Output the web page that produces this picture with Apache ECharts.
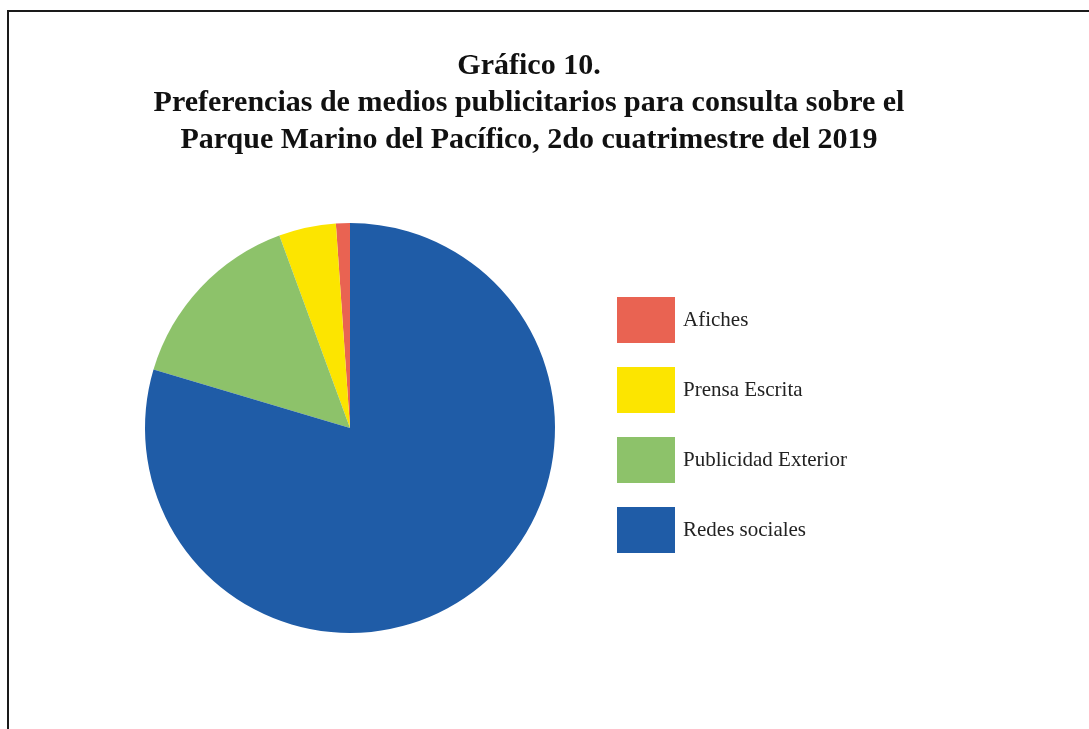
<!DOCTYPE html>
<html>
<head>
<meta charset="UTF-8">
<title>Gráfico 10</title>
<style>
  html, body { margin: 0; padding: 0; background: #fff; }
  #chart { width: 1089px; height: 729px; }
</style>
</head>
<body>
<div id="chart"></div>
<script src="https://cdn.jsdelivr.net/npm/echarts@6/dist/echarts.min.js"></script>
<script>
// categories and shares (%)
var categories = ['Afiches', 'Prensa Escrita', 'Publicidad Exterior', 'Redes sociales'];
var values = [1.1, 4.5, 14.8, 79.6];
var colors = ['#E96352', '#FCE500', '#8DC26A', '#1F5CA7'];

var titleText = 'Gráfico 10.\nPreferencias de medios publicitarios para consulta sobre el\nParque Marino del Pacífico, 2do cuatrimestre del 2019';

var pieData = [];
for (var i = 0; i < categories.length; i++) {
  pieData.push({ name: categories[i], value: values[i], itemStyle: { color: colors[i] } });
}

var chart = echarts.init(document.getElementById('chart'));
var option = {
  backgroundColor: '#fff',
  animation: false,
  title: {
    text: titleText,
    left: 524,
    top: 43,
    textAlign: 'center',
    textStyle: {
      fontFamily: 'Liberation Serif',
      fontWeight: 'bold',
      fontSize: 30,
      lineHeight: 37,
      color: '#111'
    }
  },
  legend: {
    orient: 'vertical',
    left: 612,
    top: 292,
    itemWidth: 58,
    itemHeight: 46,
    itemGap: 24,
    icon: 'rect',
    data: categories,
    textStyle: {
      fontFamily: 'Liberation Serif',
      fontSize: 21,
      color: '#222',
      padding: [3, 0, 0, 3]
    }
  },
  graphic: [{
    type: 'rect',
    shape: { x: 8, y: 11, width: 1200, height: 800 },
    style: { fill: 'none', stroke: '#1a1a1a', lineWidth: 2 },
    silent: true
  }],
  series: [{
    type: 'pie',
    center: [350, 428],
    radius: 205,
    startAngle: 90,
    clockwise: false,
    label: { show: false },
    labelLine: { show: false },
    emphasis: { disabled: true },
    data: pieData
  }]
};
chart.setOption(option);
</script>
</body>
</html>
